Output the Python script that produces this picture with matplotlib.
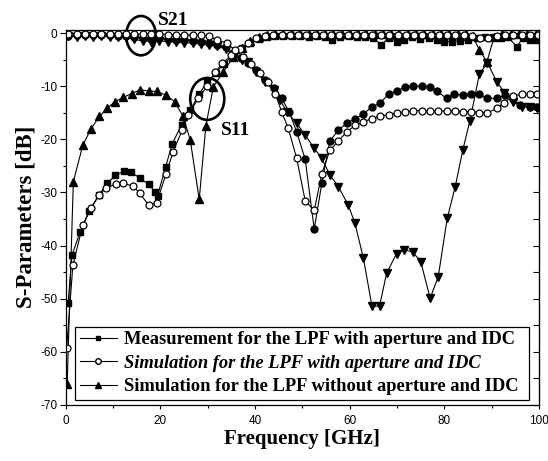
import matplotlib
matplotlib.use("Agg")
import matplotlib.pyplot as plt
from matplotlib.patches import Ellipse
from matplotlib.lines import Line2D

# ---------------- data ----------------
meas_s11_f = [0.5, 1.3, 3.0, 5.0, 7.0, 8.7, 10.5, 12.3, 13.7, 15.7, 17.5, 18.9, 19.4, 21.1, 22.5, 24.5,
              26.3, 28.2, 29.8, 31.7, 33.4, 35.4, 37.2, 39.0, 40.8, 42.5, 44.3, 46.0, 47.8, 49.5, 51.3,
              53.0, 54.8, 56.2, 58.0, 59.8, 61.5, 63.3, 65.0, 66.6, 68.3, 69.9, 71.4, 73.2, 74.9, 76.7,
              78.4, 79.9, 81.6, 83.3, 85.1, 86.8, 88.5, 90.2, 91.9, 93.5, 95.3, 96.6, 98.0, 99.5]
meas_s11_db = [-50.8, -41.8, -37.5, -33.5, -30.5, -28.3, -26.8, -26.0, -26.2, -27.3, -28.5, -29.9, -30.6, -25.2,
               -20.8, -17.3, -14.5, -11.5, -9.3, -7.5, -5.8, -4.3, -2.8, -1.8, -1.2, -0.8, -0.6, -0.5, -0.6,
               -0.5, -0.7, -0.6, -0.8, -1.3, -0.7, -0.6, -0.8, -0.7, -0.9, -2.2, -0.9, -1.6, -1.3, -0.8,
               -1.2, -0.9, -1.3, -1.6, -1.6, -1.5, -1.3, -0.9, -0.8, -0.7, -0.9, -0.8, -2.6, -0.9, -1.3, -1.3]

sim_s11_f = [0.2, 1.5, 3.6, 5.3, 7.1, 8.5, 10.6, 12.2, 14.2, 15.7, 17.5, 19.2, 21.2, 22.7, 24.6, 25.9,
             28.0, 29.9, 31.6, 33.1, 35.0, 36.8, 38.6, 40.3, 42.1, 43.8, 45.6, 47.3, 49.1, 50.8, 52.6,
             54.3, 56.1, 57.8, 59.6, 61.3, 63.1, 64.8, 66.6, 68.3, 70.1, 71.8, 73.6, 75.3, 77.1, 78.8,
             80.6, 82.3, 84.1, 85.8, 87.6, 89.3, 91.1, 92.8, 94.6, 96.3, 98.1, 99.8]
sim_s11_db = [-59.2, -43.7, -36.1, -33.0, -30.4, -29.2, -28.4, -28.3, -28.8, -30.2, -32.4, -31.9, -26.5, -22.3,
              -18.3, -15.4, -12.3, -10.0, -7.3, -5.7, -4.2, -3.0, -1.9, -1.0, -0.6, -0.4, -0.3, -0.3, -0.4,
              -0.3, -0.3, -0.4, -0.3, -0.3, -0.4, -0.3, -0.4, -0.3, -0.3, -0.4, -0.3, -0.4, -0.3, -0.4,
              -0.3, -0.4, -0.3, -0.4, -0.4, -0.6, -0.9, -1.0, -0.6, -0.4, -0.3, -0.4, -0.3, -0.3]

nosim_s11_f = [0.3, 1.6, 3.6, 5.3, 7.1, 8.7, 10.4, 12.2, 13.9, 15.7, 17.5, 19.2, 21.2, 23.0, 24.8, 26.3,
               28.2, 29.6, 31.2, 33.3, 35.4, 37.2, 39.0, 40.8, 42.5, 44.3, 46.0, 47.8, 49.5, 51.3, 53.0,
               54.8, 56.5, 58.3, 60.0, 61.8, 63.5, 65.3, 67.0, 68.8, 70.5, 72.3, 74.0, 75.8, 77.5, 79.3,
               81.0, 82.8, 84.5, 86.0, 87.4, 89.0, 90.5, 92.2, 94.0, 95.7, 97.5, 99.3]
nosim_s11_db = [-66.0, -28.0, -21.1, -18.1, -15.7, -14.2, -12.9, -12.1, -11.4, -10.7, -10.9, -11.0, -11.7, -12.9,
                -15.7, -20.1, -31.3, -17.5, -10.1, -7.3, -4.5, -2.8, -1.5, -0.7, -0.3, -0.2, -0.1, -0.1,
                -0.2, -0.1, -0.1, -0.2, -0.1, -0.1, -0.2, -0.1, -0.1, -0.2, -0.1, -0.1, -0.2, -0.1, -0.1,
                -0.2, -0.1, -0.1, -0.2, -0.1, -0.1, -0.6, -3.2, -5.4, -0.8, -0.2, -0.1, -0.2, -0.1, -0.1]

meas_s21_f = [0.5, 2.3, 4.0, 5.8, 7.5, 9.3, 11.0, 12.8, 14.5, 16.3, 18.0, 19.8, 21.5, 23.3, 25.0, 26.8,
              28.5, 30.3, 32.0, 33.8, 35.5, 37.0, 38.6, 40.3, 42.1, 43.9, 45.6, 47.2, 48.8, 50.6, 52.5,
              54.1, 55.8, 57.6, 59.4, 61.1, 62.9, 64.7, 66.4, 68.2, 69.9, 71.7, 73.4, 75.2, 77.0, 78.5,
              80.5, 82.0, 83.9, 85.6, 87.4, 89.1, 91.1, 92.8, 94.5, 96.0, 98.1, 99.6]
meas_s21_db = [-0.5, -0.3, -0.4, -0.3, -0.4, -0.4, -0.5, -0.6, -0.8, -1.0, -1.1, -1.0, -1.2, -1.3, -1.4, -1.5,
               -1.7, -1.9, -2.3, -2.7, -3.8, -4.7, -5.6, -7.0, -8.8, -10.3, -12.3, -14.8, -18.6, -23.8, -36.9,
               -28.3, -20.3, -18.3, -16.9, -16.2, -15.2, -13.9, -13.2, -11.5, -10.9, -10.2, -10.0, -10.0, -10.1,
               -11.0, -12.3, -11.5, -11.7, -11.4, -11.5, -12.3, -12.3, -11.7, -12.5, -13.5, -13.9, -13.9]

sim_s21_f = [0.5, 2.3, 4.0, 5.8, 7.5, 9.3, 11.0, 12.8, 14.5, 16.3, 18.0, 19.8, 21.5, 23.3, 25.0, 26.8,
             28.5, 30.2, 31.9, 34.0, 35.8, 37.5, 39.2, 41.0, 42.7, 44.3, 45.6, 47.0, 48.8, 50.6, 52.5,
             54.1, 55.8, 57.6, 59.4, 61.1, 62.9, 64.7, 66.4, 68.2, 69.9, 71.7, 73.4, 75.2, 77.0, 78.7,
             80.5, 82.2, 84.0, 85.7, 87.4, 89.1, 91.1, 92.5, 94.6, 96.3, 98.1, 99.6]
sim_s21_db = [-0.2, -0.2, -0.2, -0.2, -0.2, -0.2, -0.2, -0.2, -0.2, -0.2, -0.2, -0.2, -0.3, -0.3, -0.3, -0.4,
              -0.4, -0.6, -1.3, -1.9, -3.2, -4.5, -5.8, -7.5, -9.3, -11.5, -14.8, -17.9, -23.6, -31.6, -33.4,
              -26.5, -22.1, -20.3, -18.6, -17.4, -16.7, -16.1, -15.6, -15.4, -15.1, -14.9, -14.6, -14.6, -14.7,
              -14.7, -14.7, -14.7, -14.8, -14.8, -15.0, -15.0, -14.2, -13.1, -11.9, -11.5, -11.5, -11.5]

nosim_s21_f = [0.5, 2.3, 4.0, 5.8, 7.5, 9.3, 11.0, 12.8, 14.5, 16.3, 18.0, 19.8, 21.5, 23.3, 25.0, 26.8,
               28.5, 30.3, 32.0, 33.8, 35.5, 37.2, 38.6, 40.3, 42.1, 43.9, 45.3, 46.7, 48.8, 50.6, 52.5,
               54.1, 55.8, 57.6, 59.7, 61.1, 62.9, 64.7, 66.3, 67.8, 69.9, 71.5, 73.3, 75.0, 77.0, 78.7,
               80.6, 82.3, 83.9, 85.4, 87.4, 89.1, 91.1, 92.7, 94.6, 96.3, 98.1, 99.6]
nosim_s21_db = [-0.6, -0.7, -0.6, -0.7, -0.6, -0.7, -0.7, -0.8, -1.2, -1.5, -1.6, -1.5, -1.6, -1.7, -1.8, -1.9,
                -2.0, -2.2, -2.5, -3.0, -4.2, -5.0, -5.4, -7.3, -9.2, -10.7, -12.6, -14.8, -17.0, -19.2, -21.7,
                -23.6, -26.7, -28.9, -32.4, -35.8, -42.4, -51.4, -51.4, -45.2, -41.5, -40.8, -41.2, -43.0, -49.9,
                -45.9, -34.9, -28.9, -22.0, -16.5, -7.7, -5.6, -9.2, -11.2, -12.9, -13.9, -13.9, -14.2]

legend_labels = ["Measurement for the LPF with aperture and IDC",
                 "Simulation for the LPF with aperture and IDC",
                 "Simulation for the LPF without aperture and IDC"]
x_ticks = [0, 20, 40, 60, 80, 100]
y_ticks = [0, -10, -20, -30, -40, -50, -60, -70]

# ---------------- plot ----------------
fig = plt.figure(figsize=(5.48, 4.61), dpi=100)
ax = fig.add_axes([0.12, 0.1215, 0.8636, 0.8145])

lw = 0.8
ms = 5.0
ax.plot(meas_s11_f, meas_s11_db, '-', color='black', lw=lw, marker='s', ms=ms - 0.5, mfc='black', mec='black')
ax.plot(meas_s21_f, meas_s21_db, '-', color='black', lw=lw, marker='o', ms=ms, mfc='black', mec='black')
ax.plot(nosim_s11_f, nosim_s11_db, '-', color='black', lw=lw, marker='^', ms=ms + 1.0, mfc='black', mec='black')
ax.plot(nosim_s21_f, nosim_s21_db, '-', color='black', lw=lw, marker='v', ms=ms + 1.0, mfc='black', mec='black')
ax.plot(sim_s11_f, sim_s11_db, '-', color='black', lw=lw, marker='o', ms=ms, mfc='white', mec='black', mew=0.9)
ax.plot(sim_s21_f, sim_s21_db, '-', color='black', lw=lw, marker='o', ms=ms, mfc='white', mec='black', mew=0.9)

ax.set_xlim(0, 100)
ax.set_ylim(-70, 0.66)
ax.set_xticks(x_ticks)
ax.set_xticks([10, 30, 50, 70, 90], minor=True)
ax.set_yticks(y_ticks)
ax.set_yticks([-5, -15, -25, -35, -45, -55, -65], minor=True)
tick_font = dict(family='Liberation Sans', size=8.5)
ax.set_xticklabels([str(t) for t in x_ticks], **tick_font)
ax.set_yticklabels([str(t) for t in y_ticks], **tick_font)
ax.tick_params(axis='y', which='major', direction='out', length=4, width=0.8, pad=2)
ax.tick_params(axis='y', which='minor', direction='out', length=2.5, width=0.8)
ax.tick_params(axis='x', which='major', direction='out', length=3, width=0.8, pad=4)
ax.tick_params(axis='x', which='minor', direction='out', length=2, width=0.8)
sec = ax.secondary_yaxis('right')
sec.set_yticks(y_ticks + [-5, -15, -25, -35, -45, -55, -65])
sec.set_yticklabels([])
sec.tick_params(direction='in', length=4, width=0.8)
for s in ax.spines.values():
    s.set_linewidth(0.9)

ax.set_xlabel("Frequency [GHz]", labelpad=2, family='Liberation Serif', weight='bold', size=15)
ax.set_ylabel("S-Parameters [dB]", labelpad=3, family='Liberation Serif', weight='bold', size=16.5)

# annotations
ax.add_patch(Ellipse((15.9, -0.5), 6.3, 7.4, fill=False, lw=1.9, ec='black', clip_on=False))
ax.add_patch(Ellipse((29.9, -12.4), 7.2, 7.9, fill=False, lw=1.9, ec='black', clip_on=False))
ann_font = dict(family='Liberation Serif', weight='bold', size=14)
ax.text(22.7, 2.3, "S21", ha='center', va='center', **ann_font)
ax.text(35.8, -18.3, "S11", ha='center', va='center', **ann_font)

handles = [Line2D([], [], color='black', lw=lw, marker='s', ms=3.5, mfc='black'),
           Line2D([], [], color='black', lw=lw, marker='o', ms=4, mfc='white', mec='black'),
           Line2D([], [], color='black', lw=lw, marker='^', ms=5, mfc='black')]
leg = ax.legend(handles, legend_labels, loc='lower left',
                bbox_to_anchor=(0.0197, 0.0133, 0.959, 0.202), mode='expand',
                prop=dict(family='Liberation Serif', weight='bold', size=13.3),
                frameon=True, fancybox=False, edgecolor='black', framealpha=1,
                handlelength=2.0, handletextpad=0.4, borderpad=0.25, labelspacing=0.35,
                borderaxespad=0)
leg.get_frame().set_linewidth(0.9)
leg.get_texts()[1].set_style('italic')

fig.savefig("out.png", dpi=100)
